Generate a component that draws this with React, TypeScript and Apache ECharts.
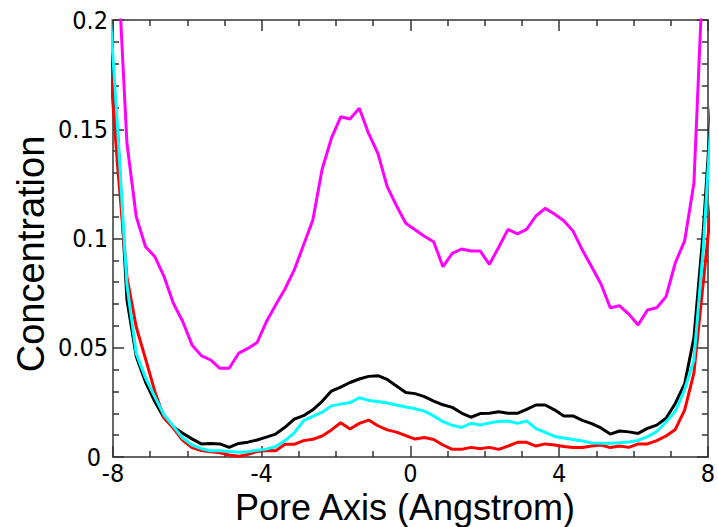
import React, { useEffect, useRef } from "react";
import * as echarts from "echarts";

const xPositions = [
  -8.125, -7.875, -7.625, -7.375, -7.125, -6.875, -6.625, -6.375, -6.125, -5.875, -5.625,
  -5.375, -5.125, -4.875, -4.625, -4.375, -4.125, -3.875, -3.625, -3.375, -3.125, -2.875,
  -2.625, -2.375, -2.125, -1.875, -1.625, -1.375, -1.125, -0.875, -0.625, -0.375, -0.125,
  0.125, 0.375, 0.625, 0.875, 1.125, 1.375, 1.625, 1.875, 2.125, 2.375, 2.625, 2.875,
  3.125, 3.375, 3.625, 3.875, 4.125, 4.375, 4.625, 4.875, 5.125, 5.375, 5.625, 5.875,
  6.125, 6.375, 6.625, 6.875, 7.125, 7.375, 7.625, 7.875, 8.125,
];

const blackSeries = [
  0.196, 0.148, 0.072, 0.046, 0.0343, 0.0254, 0.0179, 0.0137, 0.0109, 0.0083, 0.006,
  0.0062, 0.006, 0.0044, 0.0062, 0.0068, 0.0078, 0.0091, 0.0105, 0.0136, 0.0173, 0.0189,
  0.0216, 0.0255, 0.0302, 0.032, 0.0341, 0.0357, 0.0369, 0.0372, 0.0355, 0.0325, 0.0295,
  0.029, 0.0276, 0.0256, 0.0239, 0.0227, 0.0201, 0.0182, 0.0199, 0.02, 0.0207, 0.02, 0.02,
  0.0218, 0.0238, 0.0238, 0.0216, 0.0188, 0.0188, 0.0168, 0.0153, 0.0133, 0.0105, 0.0119, 0.0115,
  0.0108, 0.0131, 0.0146, 0.0177, 0.0245, 0.0334, 0.0545, 0.103, 0.168,
];

const redSeries = [
  0.19, 0.133, 0.0824, 0.0595, 0.0449, 0.03, 0.018, 0.0131, 0.0076, 0.0043, 0.003,
  0.0024, 0.0019, 0.0009, 0.0003, 0.0012, 0.0025, 0.003, 0.0029, 0.0058, 0.0058, 0.0075,
  0.0081, 0.0096, 0.0124, 0.0157, 0.0128, 0.0154, 0.0169, 0.0143, 0.0124, 0.0114, 0.0098,
  0.0082, 0.0089, 0.008, 0.0055, 0.0035, 0.0035, 0.0044, 0.0038, 0.0044, 0.0035, 0.005, 0.0067,
  0.0067, 0.005, 0.006, 0.0055, 0.0048, 0.0044, 0.0043, 0.005, 0.0055, 0.0043, 0.005, 0.0044,
  0.006, 0.006, 0.0075, 0.0096, 0.0126, 0.0215, 0.0384, 0.0796, 0.121,
];

const cyanSeries = [
  0.215, 0.15, 0.0787, 0.0474, 0.0362, 0.0275, 0.0192, 0.014, 0.0087, 0.0055, 0.0038,
  0.0029, 0.0029, 0.0025, 0.0022, 0.0024, 0.0031, 0.0036, 0.0048, 0.0075, 0.011, 0.0166,
  0.0186, 0.0205, 0.0234, 0.0242, 0.0249, 0.0271, 0.0259, 0.0254, 0.0247, 0.0238, 0.0229,
  0.0221, 0.021, 0.0188, 0.0162, 0.0145, 0.0135, 0.0154, 0.0146, 0.0156, 0.0163, 0.0165, 0.0154,
  0.0165, 0.013, 0.0113, 0.0094, 0.0087, 0.008, 0.0073, 0.0064, 0.0063, 0.0063, 0.0065, 0.0069,
  0.0076, 0.0093, 0.0117, 0.016, 0.021, 0.0309, 0.0444, 0.095, 0.165,
];

const magentaSeries = [
  0.35, 0.228, 0.1436, 0.11, 0.0962, 0.0917, 0.0825, 0.0703, 0.062, 0.0513, 0.0464,
  0.0444, 0.0406, 0.0406, 0.0474, 0.0497, 0.0523, 0.0619, 0.0696, 0.0769, 0.0856, 0.097,
  0.1085, 0.1317, 0.1459, 0.1557, 0.1547, 0.1596, 0.1481, 0.139, 0.1237, 0.115, 0.107,
  0.104, 0.101, 0.0985, 0.0871, 0.0932, 0.0952, 0.0943, 0.0943, 0.0882, 0.096, 0.1042, 0.1021,
  0.1042, 0.1103, 0.1138, 0.1112, 0.1081, 0.1034, 0.0947, 0.0871, 0.0792, 0.0683, 0.0692, 0.0654,
  0.0604, 0.0673, 0.0683, 0.0734, 0.0889, 0.0989, 0.1253, 0.225, 0.35,
];

const xTitle = "Pore Axis (Angstrom)";
const yTitle = "Concentration";

const LABEL_FONT = "'Liberation Sans Narrow', 'DejaVu Sans Condensed', 'Liberation Sans', sans-serif";
const TITLE_FONT = "'Liberation Sans', Arial, sans-serif";
const AXIS_COLOR = "#333333";

function makeAxisCommon(showLabel: boolean, minorSplit: number) {
  return {
    axisLine: { show: true, onZero: false, lineStyle: { color: AXIS_COLOR, width: 1.5 } },
    axisTick: { show: true, inside: true, length: 11, lineStyle: { color: AXIS_COLOR, width: 1.5 } },
    minorTick: {
      show: true,
      splitNumber: minorSplit,
      length: 6,
      lineStyle: { color: AXIS_COLOR, width: 1.5 },
    },
    splitLine: { show: false },
    minorSplitLine: { show: false },
    axisLabel: {
      show: showLabel,
      fontSize: 25,
      lineHeight: 24,
      fontFamily: LABEL_FONT,
      color: "#000",
      margin: 4,
    },
  };
}

export default function App() {
  const ref = useRef<HTMLDivElement>(null);

  useEffect(() => {
    if (!ref.current) return;
    const chart = echarts.init(ref.current, undefined, { renderer: "svg" });

    const mk = (name: string, vals: number[], color: string) => ({
      name,
      type: "line",
      xAxisIndex: 0,
      yAxisIndex: 0,
      showSymbol: false,
      symbol: "none",
      clip: true,
      data: xPositions.map((x, i) => [x, vals[i]]),
      lineStyle: { color, width: 3 },
      itemStyle: { color },
    });

    const yLeft: any = {
      type: "value",
      position: "left",
      min: 0,
      max: 0.2,
      interval: 0.05,
      ...makeAxisCommon(true, 5),
    };
    yLeft.axisLabel = {
      ...yLeft.axisLabel,
      margin: 5,
      formatter: (v: number) => (v === 0 ? "{z|0}" : String(v)),
      rich: {
        z: {
          fontSize: 25,
          lineHeight: 24,
          fontFamily: LABEL_FONT,
          color: "#000",
          padding: [0, 7, 0, 0],
        },
      },
    };

    chart.setOption({
      animation: false,
      backgroundColor: "#ffffff",
      grid: { left: 113, right: 6, top: 20, bottom: 70, containLabel: false },
      xAxis: [
        { type: "value", position: "bottom", min: -8, max: 8, interval: 4, ...makeAxisCommon(true, 4) },
        { type: "value", position: "top", min: -8, max: 8, interval: 4, ...makeAxisCommon(false, 4) },
      ],
      yAxis: [
        yLeft,
        { type: "value", position: "right", min: 0, max: 0.2, interval: 0.05, ...makeAxisCommon(false, 5) },
      ],
      graphic: [
        {
          type: "text",
          x: 405,
          y: 507,
          style: {
            text: xTitle,
            fontSize: 36,
            lineHeight: 34,
            fontFamily: TITLE_FONT,
            fill: "#000",
            align: "center",
            verticalAlign: "middle",
          },
        },
        {
          type: "text",
          x: 31,
          y: 254,
          rotation: Math.PI / 2,
          style: {
            text: yTitle,
            fontSize: 38,
            lineHeight: 34,
            fontFamily: TITLE_FONT,
            fill: "#000",
            align: "center",
            verticalAlign: "middle",
          },
        },
      ],
      series: [
        mk("black", blackSeries, "#000000"),
        mk("red", redSeries, "#ff0000"),
        mk("cyan", cyanSeries, "#00ffff"),
        mk("magenta", magentaSeries, "#ff00ff"),
      ],
    });

    return () => chart.dispose();
  }, []);

  return (
    <div
      ref={ref}
      style={{ position: "fixed", left: 0, top: 0, width: 718, height: 527, background: "#fff" }}
    />
  );
}
